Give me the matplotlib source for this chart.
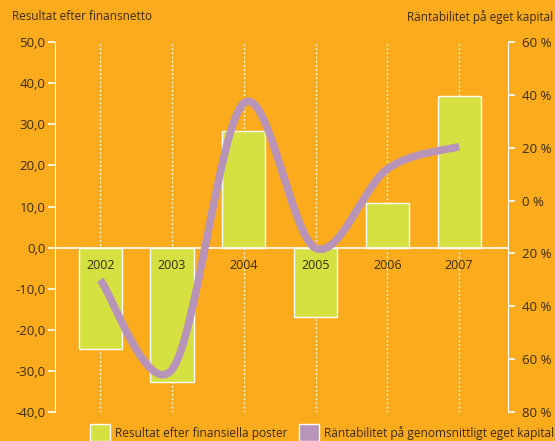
import numpy as np
import matplotlib
matplotlib.use("Agg")
from matplotlib import pyplot as plt
from matplotlib.path import Path
from matplotlib.patches import PathPatch, Rectangle

# data
years = ["2002", "2003", "2004", "2005", "2006", "2007"]
resultat = [-24.6, -32.8, 28.5, -17.0, 10.9, 36.9]       # left axis, MSEK
rantabilitet = [-30.0, -64.0, 37.0, -18.0, 12.0, 20.5]   # right axis, %

left_ticks = [-40, -30, -20, -10, 0, 10, 20, 30, 40, 50]
right_ticks = [-80, -60, -40, -20, 0, 20, 40, 60]

bg = "#FBAB1C"
green = "#D5E041"
purple = "#B794B8"
txt = "#3A2C12"

plt.rcParams["font.family"] = ["Open Sans", "DejaVu Sans"]

fig = plt.figure(figsize=(5.55, 4.41), dpi=100, facecolor=bg)
ax = fig.add_axes([0.0991, 0.0664, 0.8162, 0.8376])
ax.set_facecolor(bg)
ax2 = ax.twinx()

x = np.arange(len(years))
ax.set_xlim(-0.63, 5.68)
ax.set_ylim(-40, 50)
ax2.set_ylim(-80, 60)

# dotted year lines
for xi in x:
    ax.plot([xi, xi], [-40, 50], color="white", lw=1, ls=(0, (1.2, 1.8)), zorder=1)

ax.bar(x, resultat, width=0.6, color=green, edgecolor="white", lw=1, zorder=2)
ax.axhline(0, color="white", lw=1.2, zorder=3)

for xi, yr in zip(x, years):
    ax.text(xi, -4.3, yr, ha="center", va="center", fontsize=9, color=txt, zorder=5)

# smoothed line (Catmull-Rom through the data points, drawn as bezier path)
pts = np.column_stack([x, rantabilitet]).astype(float)
ext = np.vstack([pts[0], pts, pts[-1]])
verts = [tuple(pts[0])]
codes = [Path.MOVETO]
for i in range(1, len(ext) - 2):
    p0, p1, p2, p3 = ext[i - 1], ext[i], ext[i + 1], ext[i + 2]
    verts += [tuple(p1 + (p2 - p0) / 6), tuple(p2 - (p3 - p1) / 6), tuple(p2)]
    codes += [Path.CURVE4] * 3
ax2.add_patch(PathPatch(Path(verts, codes), fill=False, edgecolor=purple, lw=5.5,
                        capstyle="butt", zorder=4))

# axes styling
for a in (ax, ax2):
    for s in a.spines.values():
        s.set_visible(False)
ax.spines["left"].set_visible(True)
ax.spines["left"].set_color("white")
ax.spines["left"].set_bounds(-40, 50)
ax2.spines["right"].set_visible(True)
ax2.spines["right"].set_color("white")

ax.set_xticks([])
ax.set_yticks(left_ticks)
ax.set_yticklabels([f"{v:.1f}".replace(".", ",") for v in left_ticks])
ax.tick_params(axis="y", colors="white", labelcolor=txt, length=5, width=1.2,
               pad=2, labelsize=9.5)
ax2.set_yticks(right_ticks)
ax2.set_yticklabels([f"{abs(v)} %" for v in right_ticks])
ax2.tick_params(axis="y", colors="white", labelcolor=txt, length=5, width=1.2,
                pad=5, labelsize=9.5)

fig.text(12 / 555, 1 - 17 / 441, "Resultat efter finansnetto", fontsize=8.5,
         color=txt, ha="left", va="center")
fig.text(553 / 555, 1 - 17 / 441, "Räntabilitet på eget kapital", fontsize=8.5,
         color=txt, ha="right", va="center")

# legend
fig.patches.append(Rectangle((90 / 555, 0), 20 / 555, 17 / 441, transform=fig.transFigure,
                             facecolor=green, edgecolor="white", lw=1))
fig.text(115 / 555, 1 - 433 / 441, "Resultat efter finansiella poster", fontsize=8.6,
         color=txt, ha="left", va="center")
fig.patches.append(Rectangle((299 / 555, 0), 20 / 555, 17 / 441, transform=fig.transFigure,
                             facecolor=purple, edgecolor="white", lw=1))
fig.text(324 / 555, 1 - 433 / 441, "Räntabilitet på genomsnittligt eget kapital", fontsize=8.6,
         color=txt, ha="left", va="center")

fig.savefig("out.png", dpi=100, facecolor=bg)
